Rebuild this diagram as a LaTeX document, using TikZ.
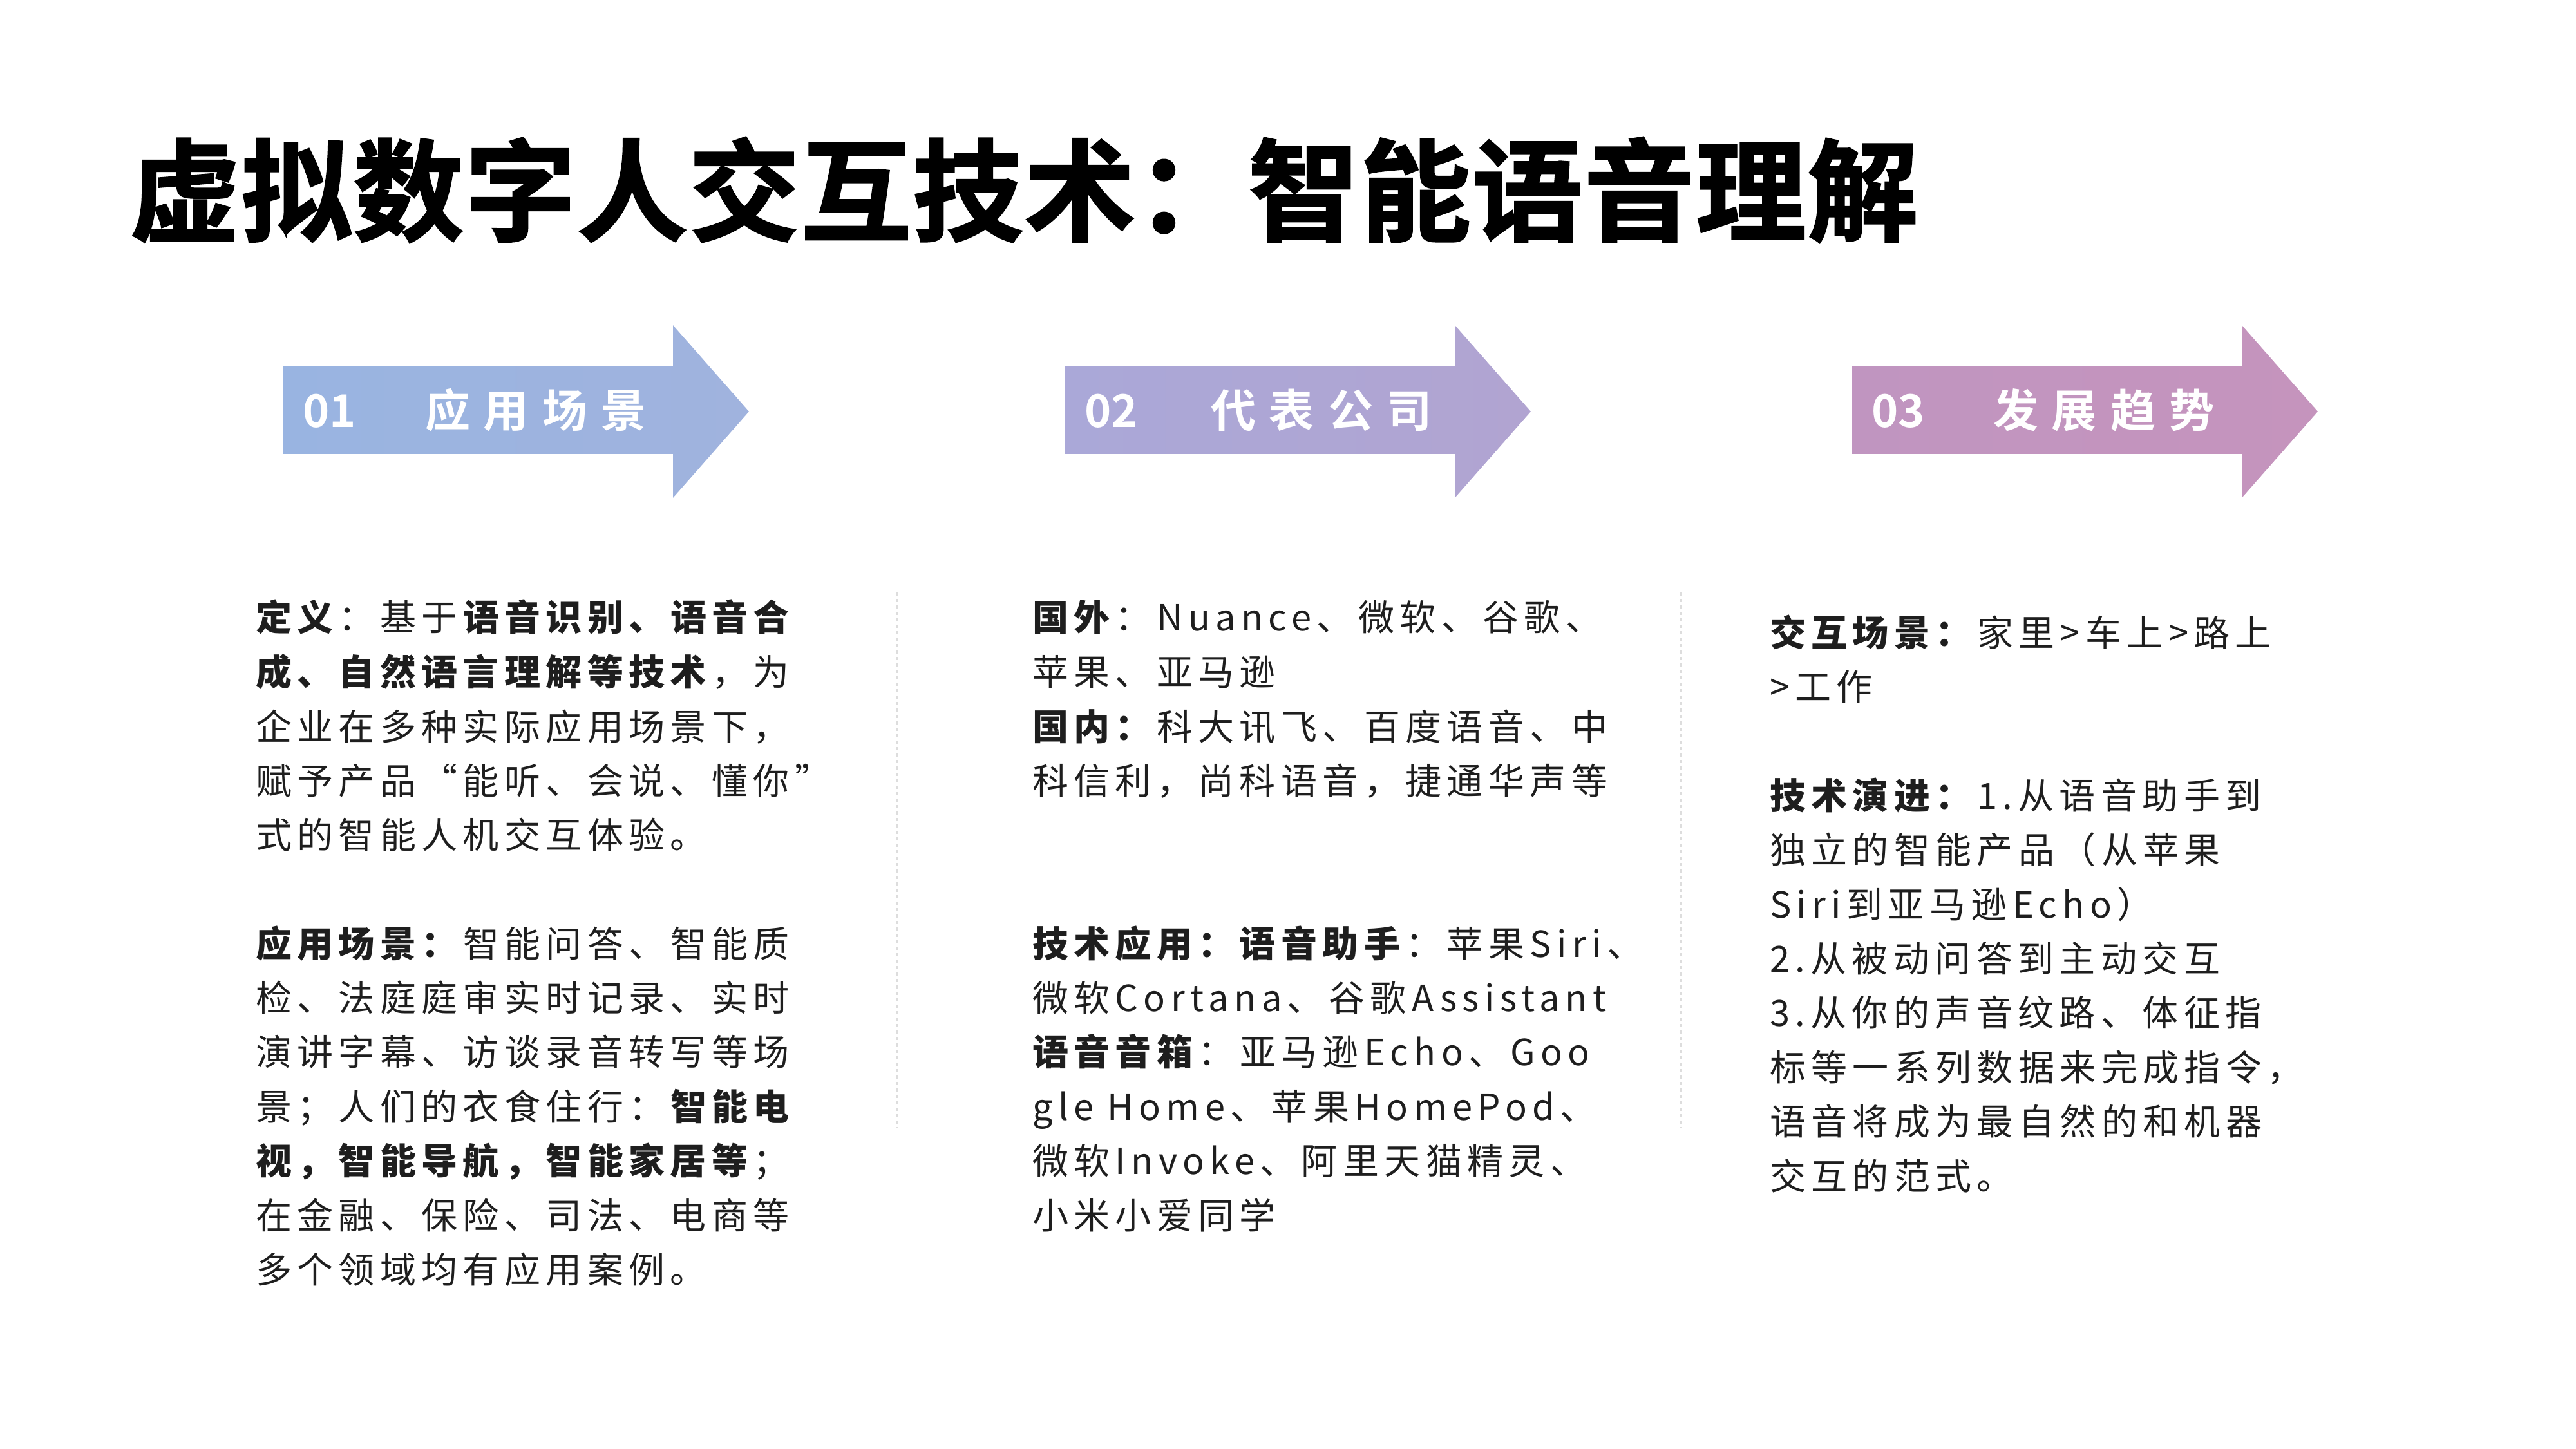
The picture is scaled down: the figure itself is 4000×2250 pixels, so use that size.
\documentclass[tikz,border=0pt]{standalone}
\usepackage{fontspec}
\setmainfont{Noto Sans CJK SC}[LetterSpace=15]
\newfontfamily\ttlfont{Noto Sans CJK SC Bold}[LetterSpace=1,FakeBold=1.5]
\newfontfamily\lblfont{Noto Sans CJK SC Bold}[LetterSpace=30]
\newfontfamily\numfont{Noto Sans CJK SC Bold}
\newcommand\bdfont{\fontsize{11.2pt}{13pt}\selectfont}
\definecolor{ink}{HTML}{1E1E1E}
\definecolor{aonel}{HTML}{99B4E1}
\definecolor{aoner}{HTML}{A0B3DE}
\definecolor{atwol}{HTML}{AAA8D8}
\definecolor{atwor}{HTML}{B1A4D1}
\definecolor{athrl}{HTML}{C095C0}
\definecolor{athrr}{HTML}{C594BD}
\definecolor{sepcol}{HTML}{DDDDDD}
\begin{document}
\begin{tikzpicture}[x=0.2pt,y=-0.2pt,
  txt/.style={anchor=base west,inner sep=0pt,outer sep=0pt,text=ink,font=\bdfont},
  lbl/.style={anchor=base west,inner sep=0pt,outer sep=0pt,text=white,font=\lblfont\fontsize{14pt}{16pt}\selectfont},
  num/.style={anchor=base west,inner sep=0pt,outer sep=0pt,text=white,font=\numfont\fontsize{14pt}{16pt}\selectfont},
  sepline/.style={draw=sepcol,line width=0.7pt,dash pattern=on 1pt off 1pt}]
\useasboundingbox (0,0) rectangle (4000,2250);
% title
\node[anchor=base west,inner sep=0pt,text=black,font=\ttlfont\fontsize{34.4pt}{40pt}\selectfont] (title) at (200,361) {虚拟数字人交互技术：智能语音理解};
% arrows
\shade[left color=aonel,right color=aoner] (440,569) -- (1045,569) -- (1045,505) -- (1163,639) -- (1045,773) -- (1045,705) -- (440,705) -- cycle;
\shade[left color=atwol,right color=atwor] (1654,569) -- (2259,569) -- (2259,505) -- (2377,639) -- (2259,773) -- (2259,705) -- (1654,705) -- cycle;
\shade[left color=athrl,right color=athrr] (2876,569) -- (3481,569) -- (3481,505) -- (3599,639) -- (3481,773) -- (3481,705) -- (2876,705) -- cycle;
\node[num] (n1) at (470,664) {01};
\node[lbl] (l1) at (660,664) {应用场景};
\node[num] (n2) at (1684,664) {02};
\node[lbl] (l2) at (1880,664) {代表公司};
\node[num] (n3) at (2906,664) {03};
\node[lbl] (l3) at (3095,664) {发展趋势};
% separators
\coordinate (s1a) at (1393,920); \coordinate (s1b) at (1393,1752);
\coordinate (s2a) at (2610,920); \coordinate (s2b) at (2610,1752);
\draw[sepline] (s1a) -- (s1b);
\draw[sepline] (s2a) -- (s2b);
% column 1
\node[txt] (a1) at (397,980) {\textbf{定义}：基于\textbf{语音识别、语音合}};
\node[txt] (a2) at (397,1064) {\textbf{成、自然语言理解等技术}，为};
\node[txt] (a3) at (397,1149) {企业在多种实际应用场景下，};
\node[txt] (a4) at (397,1233) {赋予产品“能听、会说、懂你”};
\node[txt] (a5) at (397,1317) {式的智能人机交互体验。};
\node[txt] (a7) at (397,1486) {\textbf{应用场景：}智能问答、智能质};
\node[txt] (a8) at (397,1570) {检、法庭庭审实时记录、实时};
\node[txt] (a9) at (397,1654) {演讲字幕、访谈录音转写等场};
\node[txt] (a10) at (397,1739) {景；人们的衣食住行：\textbf{智能电}};
\node[txt] (a11) at (397,1823) {\textbf{视，智能导航，智能家居等}；};
\node[txt] (a12) at (397,1908) {在金融、保险、司法、电商等};
\node[txt] (a13) at (397,1992) {多个领域均有应用案例。};
% column 2
\node[txt] (b1) at (1603,980) {\textbf{国外}：Nuance、微软、谷歌、};
\node[txt] (b2) at (1603,1064) {苹果、亚马逊};
\node[txt] (b3) at (1603,1149) {\textbf{国内：}科大讯飞、百度语音、中};
\node[txt] (b4) at (1603,1233) {科信利，尚科语音，捷通华声等};
\node[txt] (b7) at (1603,1486) {\textbf{技术应用：语音助手}：苹果Siri、};
\node[txt] (b8) at (1603,1570) {微软Cortana、谷歌Assistant};
\node[txt] (b9) at (1603,1654) {\textbf{语音音箱}：亚马逊Echo、Goo};
\node[txt] (b10) at (1603,1739) {gle Home、苹果HomePod、};
\node[txt] (b11) at (1603,1823) {微软Invoke、阿里天猫精灵、};
\node[txt] (b12) at (1603,1908) {小米小爱同学};
% column 3
\node[txt] (c1) at (2748,1003) {\textbf{交互场景：}家里>车上>路上};
\node[txt] (c2) at (2748,1087) {>工作};
\node[txt] (c4) at (2748,1256) {\textbf{技术演进：}1.从语音助手到};
\node[txt] (c5) at (2748,1340) {独立的智能产品（从苹果};
\node[txt] (c6) at (2748,1425) {Siri到亚马逊Echo）};
\node[txt] (c7) at (2748,1509) {2.从被动问答到主动交互};
\node[txt] (c8) at (2748,1593) {3.从你的声音纹路、体征指};
\node[txt] (c9) at (2748,1678) {标等一系列数据来完成指令，};
\node[txt] (c10) at (2748,1762) {语音将成为最自然的和机器};
\node[txt] (c11) at (2748,1847) {交互的范式。};
\end{tikzpicture}
\end{document}
